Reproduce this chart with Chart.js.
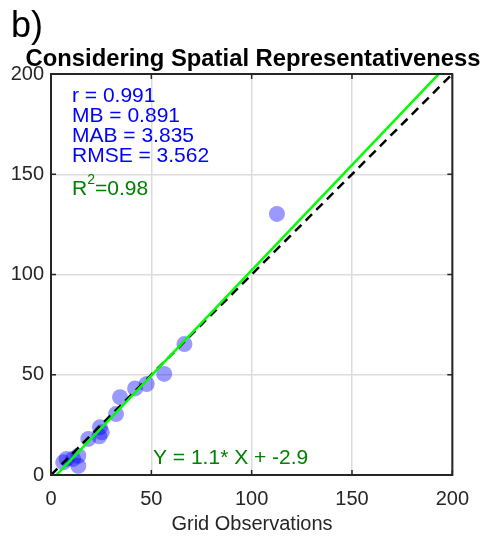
<!DOCTYPE html>
<html>
<head>
<meta charset="utf-8">
<script src="https://cdn.jsdelivr.net/npm/chart.js@4/dist/chart.umd.min.js"></script>
<style>
  html, body { margin: 0; padding: 0; background: #fff; }
  #wrap { width: 481px; height: 538px; position: relative; }
</style>
</head>
<body>
<div id="wrap"><canvas id="scatter"></canvas></div>
<script>
// grid observations vs model values
const obsX = [6.1, 7.8, 11, 13.6, 13.6, 18.6, 24.1, 25.3, 24.4, 32.4, 34.4, 41.9, 47.7, 56.4, 66.5, 112.6];
const obsY = [6.3, 8, 8, 9.6, 4.6, 18, 19.3, 21.3, 23.8, 30.4, 38.8, 43.2, 45.4, 50.4, 65.3, 130.2];

const axisTicks = [0, 50, 100, 150, 200];

// fit line (label shows it rounded to one decimal)
const fitSlope = 1.05;
const fitIntercept = -2.9;

const statLines = ['r = 0.991', 'MB = 0.891', 'MAB = 3.835', 'RMSE = 3.562'];
const r2Text = '0.98';

const FONT = "'Liberation Sans', Arial, sans-serif";
const AXIS_COLOR = '#262626';

const points = obsX.map((x, i) => ({ x: x, y: obsY[i] }));
const fitLine = [0, 200].map(x => ({ x: x, y: fitSlope * x + fitIntercept }));
const oneToOne = [{ x: 0, y: 0 }, { x: 200, y: 200 }];

// draws the frame, inward ticks and all annotation text
const decorations = {
  id: 'decorations',
  afterDatasetsDraw(chart) {
    const ctx = chart.ctx;
    const a = chart.chartArea;
    const xs = chart.scales.x, ys = chart.scales.y;
    ctx.save();

    ctx.strokeStyle = AXIS_COLOR;
    ctx.lineWidth = 2;
    ctx.strokeRect(a.left, a.top, a.right - a.left, a.bottom - a.top);
    ctx.lineWidth = 1.5;
    axisTicks.forEach(t => {
      const px = xs.getPixelForValue(t);
      const py = ys.getPixelForValue(t);
      ctx.beginPath();
      ctx.moveTo(px, a.bottom); ctx.lineTo(px, a.bottom - 5);
      ctx.moveTo(px, a.top); ctx.lineTo(px, a.top + 5);
      ctx.moveTo(a.left, py); ctx.lineTo(a.left + 5, py);
      ctx.moveTo(a.right, py); ctx.lineTo(a.right - 5, py);
      ctx.stroke();
    });

    // statistics block
    ctx.fillStyle = '#0000ff';
    ctx.font = '21px ' + FONT;
    ctx.textAlign = 'left';
    ctx.textBaseline = 'alphabetic';
    statLines.forEach((s, i) => ctx.fillText(s, 72, 102 + i * 20));

    // R^2
    ctx.fillStyle = '#008000';
    ctx.fillText('R', 72, 195);
    const rw = ctx.measureText('R').width;
    ctx.font = '14px ' + FONT;
    ctx.fillText('2', 72 + rw, 184);
    const sw = ctx.measureText('2').width;
    ctx.font = '21px ' + FONT;
    ctx.fillText('=' + r2Text, 72 + rw + sw, 195);

    // regression equation
    ctx.fillText('Y = ' + fitSlope.toFixed(1) + '* X + ' + fitIntercept.toFixed(1), 153, 464);

    // panel letter and title
    ctx.fillStyle = '#000';
    ctx.font = '36px ' + FONT;
    ctx.fillText('b)', 11, 37);
    ctx.font = 'bold 23.8px ' + FONT;
    ctx.textAlign = 'center';
    ctx.fillText('Considering Spatial Representativeness', 253, 66);

    // x axis label
    ctx.fillStyle = AXIS_COLOR;
    ctx.font = '20px ' + FONT;
    ctx.fillText('Grid Observations', 252, 530);
    ctx.restore();
  }
};

new Chart(document.getElementById('scatter'), {
  type: 'scatter',
  data: {
    datasets: [
      {
        type: 'line',
        data: fitLine,
        borderColor: '#00ff00',
        borderWidth: 2.5,
        pointRadius: 0,
        order: 0
      },
      {
        type: 'line',
        data: oneToOne,
        borderColor: '#000',
        borderWidth: 2.5,
        borderDash: [9, 6],
        pointRadius: 0,
        order: 1
      },
      {
        data: points,
        backgroundColor: 'rgba(0, 0, 255, 0.4)',
        borderWidth: 0,
        pointRadius: 8,
        pointHoverRadius: 8,
        order: 2
      }
    ]
  },
  options: {
    responsive: true,
    maintainAspectRatio: false,
    animation: false,
    layout: { padding: { top: 74, right: 27, left: 0, bottom: 0 } },
    plugins: { legend: { display: false }, tooltip: { enabled: false } },
    scales: {
      x: {
        type: 'linear',
        min: 0, max: 200,
        afterBuildTicks: s => { s.ticks = axisTicks.map(v => ({ value: v })); },
        afterFit: s => { s.height = 63; },
        grid: { color: '#dcdcdc', lineWidth: 1.5, drawTicks: false },
        border: { display: false },
        ticks: { color: AXIS_COLOR, font: { family: FONT, size: 20 }, padding: 12, maxRotation: 0 }
      },
      y: {
        type: 'linear',
        min: 0, max: 200,
        afterBuildTicks: s => { s.ticks = axisTicks.map(v => ({ value: v })); },
        afterFit: s => { s.width = 51; },
        grid: { color: '#dcdcdc', lineWidth: 1.5, drawTicks: false },
        border: { display: false },
        ticks: { color: AXIS_COLOR, font: { family: FONT, size: 20 }, padding: 7 }
      }
    }
  },
  plugins: [decorations]
});
</script>
</body>
</html>
